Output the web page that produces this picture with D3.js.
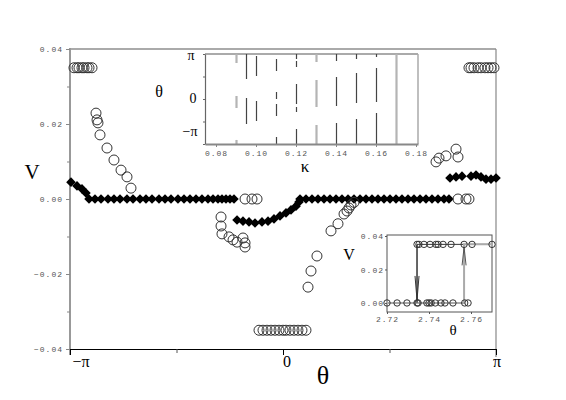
<!DOCTYPE html>
<meta charset="utf-8">
<script src="https://cdnjs.cloudflare.com/ajax/libs/d3/7.8.5/d3.min.js"></script>
<style>
  body { margin: 0; background: #fff; }
  .mono { font-family: "Liberation Mono", "DejaVu Sans Mono", monospace; font-size: 8px; fill: #555; letter-spacing: 1px; }
  .serif { font-family: "Liberation Serif", "DejaVu Serif", serif; fill: #000; }
</style>
<div id="my_dataviz"></div>
<script>
// ---- main panel: V against theta ----
// open circles
var circTheta = [-3.083, -3.038, -3.009, -2.965, -2.935, -2.891, -2.861, -2.817,
  -2.758, -2.743, -2.729, -2.699, -2.596, -2.493, -2.389, -2.301, -2.242,
  -0.560, -0.457, -0.383,
  -0.914, -0.914, -0.900, -0.796, -0.737, -0.678, -0.590, -0.560, -0.560,
  -0.354, -0.295, -0.236, -0.177, -0.118, -0.059, 0.000, 0.044, 0.103, 0.162, 0.221, 0.280, 0.339,
  0.369, 0.413, 0.501, 0.708, 0.811, 0.900, 0.944, 0.973, 1.003, 1.047,
  2.581, 2.699, 2.743,
  2.257, 2.301, 2.404, 2.552, 2.581,
  2.743, 2.773, 2.817, 2.876, 2.920, 2.979, 3.024, 3.068, 3.112];
var circV = [0.035, 0.035, 0.035, 0.035, 0.035, 0.035, 0.035, 0.035,
  0.0229, 0.0211, 0.0203, 0.0171, 0.0136, 0.0104, 0.0077, 0.0059, 0.0029,
  0, 0, 0,
  -0.0048, -0.0072, -0.0093, -0.0101, -0.0109, -0.0115, -0.0104, -0.0117, -0.0128,
  -0.035, -0.035, -0.035, -0.035, -0.035, -0.035, -0.035, -0.035, -0.035, -0.035, -0.035, -0.035, -0.035,
  -0.0235, -0.0192, -0.0152, -0.0085, -0.0066, -0.0040, -0.0032, -0.0024, -0.0016, -0.0009,
  0, 0, 0,
  0.0099, 0.0109, 0.0115, 0.0133, 0.0112,
  0.035, 0.035, 0.035, 0.035, 0.035, 0.035, 0.035, 0.035, 0.035];

// filled diamonds
var diamTheta = [-3.127, -3.038, -2.965, -2.906,
  -2.861, -2.773, -2.684, -2.581, -2.493, -2.404, -2.301, -2.212, -2.109, -2.021,
  -1.932, -1.829, -1.740, -1.652, -1.549, -1.460, -1.372, -1.283, -1.195, -1.106,
  -1.032, -0.959, -0.900, -0.841, -0.782, -0.723,
  -0.678, -0.590, -0.501, -0.413, -0.310, -0.221, -0.133, -0.044, 0.044, 0.118, 0.192, 0.236,
  0.251, 0.339, 0.428, 0.516, 0.605, 0.693, 0.782, 0.870, 0.959, 1.047, 1.136, 1.224, 1.313,
  1.401, 1.490, 1.578, 1.667, 1.755, 1.844, 1.932, 2.021, 2.109, 2.198, 2.286, 2.375, 2.448,
  2.463, 2.552, 2.640, 2.773, 2.847, 2.920, 2.994, 3.068, 3.142];
var diamV = [0.0045, 0.0035, 0.0027, 0.0016,
  0, 0, 0, 0, 0, 0, 0, 0, 0, 0,
  0, 0, 0, 0, 0, 0, 0, 0, 0, 0,
  0, 0, 0, 0, 0, 0,
  -0.0056, -0.0059, -0.0061, -0.0064, -0.0061, -0.0059, -0.0053, -0.0045, -0.0037, -0.0029, -0.0019, -0.0008,
  0, 0, 0, 0, 0, 0, 0, 0, 0, 0, 0, 0, 0,
  0, 0, 0, 0, 0, 0, 0, 0, 0, 0, 0, 0, 0,
  0.0056, 0.0059, 0.0061, 0.0061, 0.0064, 0.0059, 0.0053, 0.0053, 0.0056];

var vTicks = [-0.04, -0.02, 0, 0.02, 0.04];
var vMinor = [-0.03, -0.01, 0.01, 0.03];
var thetaTicks = [-Math.PI, 0, Math.PI];
var thetaTickLabels = ["\u2212\u03c0", "0", "\u03c0"];

// ---- inset 1: theta segments against kappa (theta ends in units of pi) ----
var segKappa = [0.09, 0.09, 0.09, 0.095, 0.095, 0.10, 0.10,
  0.11, 0.11, 0.11, 0.11, 0.12, 0.12, 0.12, 0.12, 0.12,
  0.13, 0.13, 0.13, 0.14, 0.14, 0.14, 0.15, 0.15, 0.15, 0.16, 0.16, 0.16, 0.17];
var segFrom = [1, 0.067, -0.91, 1, 0.022, 0.956, -0.044,
  0.889, 0.156, -0.111, -0.844, 1, 0.844, 0.333, -0.178, -0.667,
  1, 0.422, -0.578, 1, 0.489, -0.533, 1, 0.578, -0.444, 1, 0.689, -0.311, 1];
var segTo = [0.8, -0.2, -1, 0.444, -0.556, 0.511, -0.489,
  0.622, 0, -0.378, -1, 0.889, 0.711, -0.111, -0.289, -1,
  0.822, -0.178, -1, 0.844, -0.156, -1, 0.889, -0.089, -1, 0.933, -0.067, -1, -1];
var lightKappa = [0.09, 0.13, 0.17];
var kappaTicks = [0.08, 0.10, 0.12, 0.14, 0.16, 0.18];

// ---- inset 2: zoom on the jump near theta = 2.74 ----
var zoomTheta = [2.72, 2.7248, 2.7295, 2.7343, 2.7348, 2.739, 2.740, 2.741, 2.743, 2.7457, 2.7476, 2.7514, 2.757, 2.7586,
  2.7343, 2.7352, 2.7376, 2.7405, 2.7433, 2.7443, 2.7467, 2.7505, 2.7567, 2.7605, 2.77];
var zoomV = [0, 0, 0, 0, 0, 0, 0, 0, 0, 0, 0, 0, 0, 0,
  0.035, 0.035, 0.035, 0.035, 0.035, 0.035, 0.035, 0.035, 0.035, 0.035, 0.035];
var upTheta = [2.72, 2.7567, 2.7567, 2.77];
var upV = [0, 0, 0.035, 0.035];
var downTheta = [2.77, 2.7343, 2.7343, 2.72];
var downV = [0.035, 0.035, 0, 0];
var zoomVTicks = [0, 0.02, 0.04];
var zoomThetaTicks = [2.72, 2.74, 2.76];

var svg = d3.select("#my_dataviz")
  .append("svg")
    .attr("width", 566)
    .attr("height", 400);

// scales
var x = d3.scaleLinear().domain([-Math.PI, Math.PI]).range([70, 496]);
var y = d3.scaleLinear().domain([-0.04, 0.04]).range([349, 49]);

// frame
svg.append("line").attr("x1", 70).attr("x2", 496).attr("y1", 49).attr("y2", 49)
  .attr("stroke", "#aaa").attr("stroke-width", 2);
svg.append("line").attr("x1", 496).attr("x2", 496).attr("y1", 49).attr("y2", 357)
  .attr("stroke", "#888").attr("stroke-width", 1.2);
svg.append("line").attr("x1", 70).attr("x2", 70).attr("y1", 48).attr("y2", 355)
  .attr("stroke", "#999").attr("stroke-width", 2);

// y axis
var yAx = svg.append("g").attr("transform", "translate(70,0)")
  .call(d3.axisLeft(y).tickValues(vTicks).tickFormat(d3.format(".2f")).tickSize(4).tickSizeOuter(0).tickPadding(3));
yAx.select(".domain").remove();
yAx.selectAll("line").attr("stroke", "#888");
yAx.selectAll("text").attr("class", "mono").attr("font-family", null).attr("font-size", null);
var yMin = svg.append("g").attr("transform", "translate(70,0)")
  .call(d3.axisLeft(y).tickValues(vMinor).tickFormat("").tickSize(3).tickSizeOuter(0));
yMin.select(".domain").remove();
yMin.selectAll("line").attr("stroke", "#888");

// x axis
var xAx = svg.append("g").attr("transform", "translate(0,349)")
  .call(d3.axisBottom(x).tickValues(thetaTicks).tickFormat("").tickSize(6).tickSizeOuter(0));
xAx.select(".domain").attr("stroke", "#000").attr("stroke-width", 1.2);
var xMin = svg.append("g").attr("transform", "translate(0,349)")
  .call(d3.axisBottom(x).tickValues([-Math.PI / 2, Math.PI / 2]).tickFormat("").tickSize(4).tickSizeOuter(0));
xMin.select(".domain").remove();
xMin.selectAll("line").attr("stroke", "#555");

svg.selectAll("thetalab")
  .data(thetaTicks)
  .enter()
  .append("text")
    .attr("class", "serif")
    .attr("x", function(d, i) { return x(d) + [11, 4, 1][i]; })
    .attr("y", 367)
    .attr("text-anchor", "middle")
    .attr("font-size", 16)
    .text(function(d, i) { return thetaTickLabels[i]; });

svg.append("text").attr("class", "serif").attr("x", 32).attr("y", 179)
  .attr("text-anchor", "middle").attr("font-size", 21).text("V");
svg.append("text").attr("class", "serif").attr("x", 323).attr("y", 384)
  .attr("text-anchor", "middle").attr("font-size", 26).text("\u03b8");

// data: diamonds then circles
svg.selectAll("mydiam")
  .data(diamTheta)
  .enter()
  .append("path")
    .attr("d", "M0,-4.8L4.8,0L0,4.8L-4.8,0Z")
    .attr("transform", function(d, i) { return "translate(" + x(d) + "," + y(diamV[i]) + ")"; })
    .attr("fill", "#000");

svg.selectAll("mycirc")
  .data(circTheta)
  .enter()
  .append("circle")
    .attr("cx", function(d) { return x(d); })
    .attr("cy", function(d, i) { return y(circV[i]); })
    .attr("r", 5)
    .attr("fill", "none")
    .attr("stroke", "#333")
    .attr("stroke-width", 1);

// ---- inset 1 ----
var kx = d3.scaleLinear().domain([0.0745, 0.181]).range([205, 418]);
var ky = d3.scaleLinear().domain([-1, 1]).range([144, 54]);

svg.append("rect").attr("x", 205).attr("y", 54).attr("width", 213).attr("height", 90).attr("fill", "#fff");
svg.append("line").attr("x1", 205).attr("x2", 418).attr("y1", 54).attr("y2", 54)
  .attr("stroke", "#aaa").attr("stroke-width", 2);
svg.append("line").attr("x1", 418).attr("x2", 418).attr("y1", 54).attr("y2", 144)
  .attr("stroke", "#aaa").attr("stroke-width", 1.5);

svg.selectAll("myseg")
  .data(segKappa)
  .enter()
  .append("line")
    .attr("x1", function(d) { return Math.round(kx(d)) + 0.5; })
    .attr("x2", function(d) { return Math.round(kx(d)) + 0.5; })
    .attr("y1", function(d, i) { return ky(segFrom[i]); })
    .attr("y2", function(d, i) { return ky(segTo[i]); })
    .attr("stroke", function(d) { return lightKappa.indexOf(d) >= 0 ? "#b4b4b4" : "#444"; })
    .attr("stroke-width", function(d) { return lightKappa.indexOf(d) >= 0 ? 2.2 : 1.2; });

var kAx = svg.append("g").attr("transform", "translate(0,144)")
  .call(d3.axisBottom(kx).tickValues(kappaTicks).tickFormat(d3.format(".2f")).tickSize(3).tickSizeOuter(0).tickPadding(3));
kAx.select(".domain").attr("stroke", "#888").attr("stroke-width", 2);
kAx.selectAll("line").attr("stroke", "#888");
kAx.selectAll("text").attr("class", "mono").attr("font-family", null).attr("font-size", null);

var kyAx = svg.append("g").attr("transform", "translate(205,0)")
  .call(d3.axisLeft(ky).tickValues([-1, -0.5, 0, 0.5, 1]).tickFormat("").tickSize(2).tickSizeOuter(0));
kyAx.select(".domain").attr("stroke", "#666").attr("stroke-width", 1.2);
kyAx.selectAll("line").attr("stroke", "#666");

svg.append("text").attr("class", "serif").attr("x", 191).attr("y", 60)
  .attr("text-anchor", "middle").attr("font-size", 14).text("\u03c0");
svg.append("text").attr("class", "serif").attr("x", 193).attr("y", 103)
  .attr("text-anchor", "middle").attr("font-size", 14).text("0");
svg.append("text").attr("class", "serif").attr("x", 190).attr("y", 136)
  .attr("text-anchor", "middle").attr("font-size", 14).text("\u2212\u03c0");
svg.append("text").attr("class", "serif").attr("x", 159).attr("y", 97)
  .attr("text-anchor", "middle").attr("font-size", 16).text("\u03b8");
svg.append("text").attr("class", "serif").attr("x", 305).attr("y", 172)
  .attr("text-anchor", "middle").attr("font-size", 17).text("\u03ba");

// ---- inset 2 ----
var zx = d3.scaleLinear().domain([2.72, 2.77]).range([387, 492]);
var zy = d3.scaleLinear().domain([-0.0054, 0.0406]).range([312, 235]);

svg.append("rect").attr("x", 387).attr("y", 235).attr("width", 105).attr("height", 77)
  .attr("fill", "#fff").attr("stroke", "#555").attr("stroke-width", 1);

var line = d3.line()
  .x(function(d) { return zx(d[0]); })
  .y(function(d) { return zy(d[1]); });

svg.append("path")
  .attr("d", line(downTheta.map(function(d, i) { return [d, downV[i]]; })))
  .attr("fill", "none").attr("stroke", "#333").attr("stroke-width", 1);
svg.append("path")
  .attr("d", line(upTheta.map(function(d, i) { return [d, upV[i]]; })))
  .attr("fill", "none").attr("stroke", "#aaa").attr("stroke-width", 2);
svg.append("path")
  .attr("d", line([[downTheta[1], downV[1]], [downTheta[2], downV[2]]]))
  .attr("fill", "none").attr("stroke", "#333").attr("stroke-width", 1);

// arrowheads on the jumps
var ax1 = zx(downTheta[2]), ay1 = zy(0) - 3;
svg.append("path")
  .attr("d", "M" + (ax1 - 2) + "," + (ay1 - 24) + "L" + ax1 + "," + ay1 + "L" + (ax1 + 2) + "," + (ay1 - 24))
  .attr("fill", "none").attr("stroke", "#333").attr("stroke-width", 1);
var ax2 = zx(upTheta[2]), ay2 = zy(0.035) + 3;
svg.append("path")
  .attr("d", "M" + (ax2 - 2) + "," + (ay2 + 18) + "L" + ax2 + "," + ay2 + "L" + (ax2 + 2) + "," + (ay2 + 18))
  .attr("fill", "none").attr("stroke", "#555").attr("stroke-width", 1);

svg.selectAll("zcirc")
  .data(zoomTheta)
  .enter()
  .append("circle")
    .attr("cx", function(d) { return zx(d); })
    .attr("cy", function(d, i) { return zy(zoomV[i]); })
    .attr("r", 3.2)
    .attr("fill", "none")
    .attr("stroke", "#333")
    .attr("stroke-width", 1);

var zyAx = svg.append("g").attr("transform", "translate(387,0)")
  .call(d3.axisLeft(zy).tickValues(zoomVTicks).tickFormat(d3.format(".2f")).tickSize(2).tickSizeOuter(0).tickPadding(1));
zyAx.select(".domain").remove();
zyAx.selectAll("line").attr("stroke", "#555");
zyAx.selectAll("text").attr("class", "mono").attr("font-family", null).attr("font-size", null);

var zxAx = svg.append("g").attr("transform", "translate(0,312)")
  .call(d3.axisBottom(zx).tickValues(zoomThetaTicks).tickFormat(d3.format(".2f")).tickSize(2).tickSizeOuter(0).tickPadding(2));
zxAx.select(".domain").remove();
zxAx.selectAll("line").attr("stroke", "#555");
zxAx.selectAll("text").attr("class", "mono").attr("font-family", null).attr("font-size", null);

svg.append("text").attr("class", "serif").attr("x", 349).attr("y", 260)
  .attr("text-anchor", "middle").attr("font-size", 16).text("V");
svg.append("text").attr("class", "serif").attr("x", 453).attr("y", 335)
  .attr("text-anchor", "middle").attr("font-size", 15).text("\u03b8");
</script>
